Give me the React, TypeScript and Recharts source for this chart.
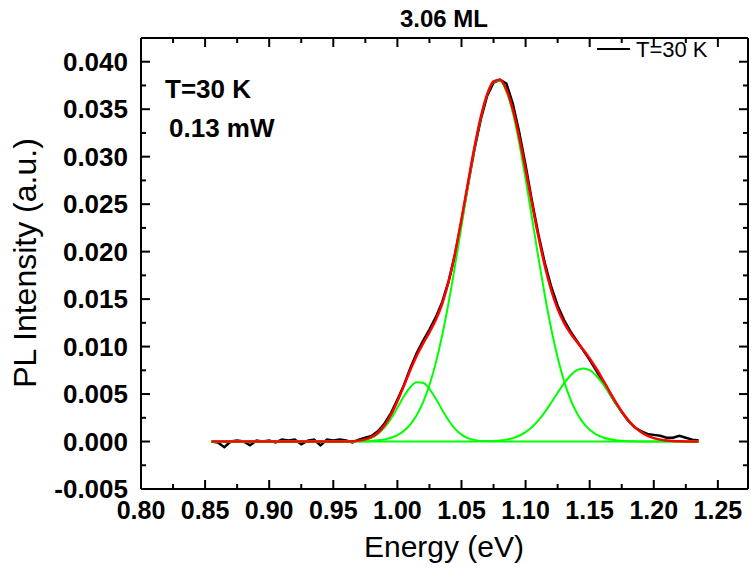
import { Line, LineChart, XAxis, YAxis } from 'recharts';

const energy = [
  0.855, 0.86, 0.865, 0.87, 0.875, 0.88, 0.885, 0.89, 0.895, 0.9,
  0.905, 0.91, 0.915, 0.92, 0.925, 0.93, 0.935, 0.94, 0.945, 0.95,
  0.955, 0.96, 0.965, 0.97, 0.975, 0.98, 0.985, 0.99, 0.995, 1.0,
  1.005, 1.01, 1.015, 1.02, 1.025, 1.03, 1.035, 1.04, 1.045, 1.05,
  1.055, 1.06, 1.065, 1.07, 1.075, 1.08, 1.085, 1.09, 1.095, 1.1,
  1.105, 1.11, 1.115, 1.12, 1.125, 1.13, 1.135, 1.14, 1.145, 1.15,
  1.155, 1.16, 1.165, 1.17, 1.175, 1.18, 1.185, 1.19, 1.195, 1.2,
  1.205, 1.21, 1.215, 1.22, 1.225, 1.23, 1.235,
];

// measured PL spectrum
const measured = [
  0.0, -0.0001, -0.0006, 0.0, 0.0001, 0.0, -0.0004, 0.0001, 0.0, 0.0001,
  -0.0001, 0.0002, 0.0001, 0.0002, -0.0003, 0.0001, 0.0002, -0.0004, 0.0002, 0.0001,
  0.0002, 0.0001, -0.0001, 0.0002, 0.0004, 0.0006, 0.0011, 0.0019, 0.003, 0.0044,
  0.0059, 0.0077, 0.0093, 0.0106, 0.0118, 0.0131, 0.0147, 0.0169, 0.0197, 0.0232,
  0.027, 0.0307, 0.0339, 0.0364, 0.0378, 0.0381, 0.0377, 0.0356, 0.0326, 0.0291,
  0.0253, 0.0218, 0.0188, 0.0163, 0.0143, 0.0128, 0.0116, 0.0106, 0.0096, 0.0086,
  0.0075, 0.0064, 0.0052, 0.0041, 0.0031, 0.0022, 0.0015, 0.0011, 0.0008, 0.0007,
  0.0006, 0.0004, 0.0004, 0.0006, 0.0004, 0.0002, 0.0001,
];

// cumulative fit (red)
const fitSum = [
  0, 0, 0, 0, 0, 0, 0, 0, 0, 0,
  0, 0, 0, 0, 0, 0, 0, 0, 0, 0,
  0.000005, 0.000014, 0.000038, 0.000096, 0.000226, 0.000485, 0.000954, 0.001715, 0.002817, 0.004236,
  0.005861, 0.007508, 0.009012, 0.010308, 0.0115, 0.012818, 0.014537, 0.01688, 0.019884, 0.023419,
  0.027211, 0.030912, 0.034148, 0.03657, 0.037931, 0.038106, 0.03708, 0.034998, 0.03208, 0.028648,
  0.02505, 0.021583, 0.018501, 0.015955, 0.013972, 0.012499, 0.011408, 0.010508, 0.00966, 0.008748,
  0.007718, 0.006579, 0.005392, 0.004225, 0.003171, 0.002263, 0.00154, 0.000998, 0.00061, 0.000358,
  0.0002, 0.000106, 0.000053, 0.000026, 0.000012, 0.000005, 0.000002,
];

// fitted peaks (green)
const peakLow = [
  0, 0, 0, 0, 0, 0, 0, 0, 0, 0,
  0, 0, 0, 0, 0, 0, 0, 0, 0, 0,
  0.000003, 0.00001, 0.00003, 0.000079, 0.000192, 0.000419, 0.000829, 0.001487, 0.002416, 0.003554,
  0.004737, 0.005717, 0.00625, 0.006188, 0.00555, 0.004508, 0.003317, 0.00221, 0.001334, 0.000729,
  0.000361, 0.000162, 0.000066, 0.000024, 0.000008, 0, 0, 0, 0, 0,
  0, 0, 0, 0, 0, 0, 0, 0, 0, 0,
  0, 0, 0, 0, 0, 0, 0, 0, 0, 0,
  0, 0, 0, 0, 0, 0, 0,
];

const peakMain = [
  0, 0, 0, 0, 0, 0, 0, 0, 0, 0,
  0, 0, 0, 0, 0, 0, 0, 0, 0, 0,
  0, 0.000004, 0.000008, 0.000017, 0.000034, 0.000066, 0.000125, 0.000228, 0.000401, 0.000682,
  0.001124, 0.001791, 0.002762, 0.00412, 0.00595, 0.00831, 0.01122, 0.01467, 0.01855, 0.02269,
  0.02685, 0.03075, 0.03407, 0.03652, 0.03787, 0.038, 0.03688, 0.03464, 0.03147, 0.02766,
  0.02353, 0.01936, 0.01541, 0.01187, 0.00884, 0.00637, 0.00445, 0.003, 0.00196, 0.00124,
  0.00076, 0.00045, 0.00026, 0.00014, 0.00008, 0.00004, 0.00002, 0.00001, 0, 0,
  0, 0, 0, 0, 0, 0, 0,
];

const peakHigh = [
  0, 0, 0, 0, 0, 0, 0, 0, 0, 0,
  0, 0, 0, 0, 0, 0, 0, 0, 0, 0,
  0, 0, 0, 0, 0, 0, 0, 0, 0, 0,
  0, 0, 0, 0, 0, 0, 0, 0, 0, 0,
  0, 0, 0.000012, 0.000026, 0.000053, 0.000106, 0.0002, 0.000358, 0.00061, 0.000988,
  0.00152, 0.002223, 0.003091, 0.004085, 0.005132, 0.006129, 0.006958, 0.007508, 0.0077, 0.007508,
  0.006958, 0.006129, 0.005132, 0.004085, 0.003091, 0.002223, 0.00152, 0.000988, 0.00061, 0.000358,
  0.0002, 0.000106, 0.000053, 0.000026, 0.000012, 0.000005, 0.000002,
];

const xTicks = [
  0.8, 0.825, 0.85, 0.875, 0.9, 0.925, 0.95, 0.975, 1.0, 1.025,
  1.05, 1.075, 1.1, 1.125, 1.15, 1.175, 1.2, 1.225, 1.25,
];
const yTicks = [
  -0.005, -0.0025, 0, 0.0025, 0.005, 0.0075, 0.01, 0.0125, 0.015, 0.0175,
  0.02, 0.0225, 0.025, 0.0275, 0.03, 0.0325, 0.035, 0.0375, 0.04,
];

const rows = energy.map((e, i) => ({
  energy: e,
  measured: measured[i],
  fit: fitSum[i],
  p1: peakLow[i],
  p2: peakMain[i],
  p3: peakHigh[i],
}));

const FONT = '"Liberation Sans", Arial, Helvetica, sans-serif';
const MAJOR = 9;
const MINOR = 5;

const onStep = (v: number, step: number) => Math.abs(v / step - Math.round(v / step)) < 1e-6;

const BottomTick = (props: any) => {
  const { x, y, payload } = props;
  const major = onStep(payload.value, 0.05);
  return (
    <g>
      <line x1={x} y1={y} x2={x} y2={y - (major ? MAJOR : MINOR)} stroke='#000' strokeWidth={2} />
      {major && (
        <text x={x} y={y + 30} textAnchor='middle' fontFamily={FONT} fontWeight='bold' fontSize={25} fill='#000'>
          {payload.value.toFixed(2)}
        </text>
      )}
    </g>
  );
};

const TopTick = (props: any) => {
  const { x, y, payload } = props;
  const major = onStep(payload.value, 0.05);
  return <line x1={x} y1={y} x2={x} y2={y + (major ? MAJOR : MINOR)} stroke='#000' strokeWidth={2} />;
};

const LeftTick = (props: any) => {
  const { x, y, payload } = props;
  const major = onStep(payload.value, 0.005);
  return (
    <g>
      <line x1={x} y1={y} x2={x + (major ? MAJOR : MINOR)} y2={y} stroke='#000' strokeWidth={2} />
      {major && (
        <text x={x - 13} y={y + 9} textAnchor='end' fontFamily={FONT} fontWeight='bold' fontSize={26} fill='#000'>
          {payload.value.toFixed(3)}
        </text>
      )}
    </g>
  );
};

const RightTick = (props: any) => {
  const { x, y, payload } = props;
  const major = onStep(payload.value, 0.005);
  return <line x1={x} y1={y} x2={x - (major ? MAJOR : MINOR)} y2={y} stroke='#000' strokeWidth={2} />;
};

const frame = { stroke: '#000', strokeWidth: 2 };

export default function App() {
  return (
    <div style={{ position: 'absolute', left: 0, top: 0, width: 751, height: 571, background: '#fff' }}>
      <LineChart width={751} height={571} data={rows} margin={{ top: 37, right: 2, left: 0, bottom: 0 }}>
        <XAxis
          dataKey='energy'
          type='number'
          domain={[0.8, 1.2735]}
          ticks={xTicks}
          interval={0}
          allowDataOverflow
          height={82}
          tickSize={0}
          tickMargin={0}
          tickLine={false}
          axisLine={frame}
          tick={<BottomTick />}
        />
        <XAxis
          xAxisId='top'
          orientation='top'
          dataKey='energy'
          type='number'
          domain={[0.8, 1.2735]}
          ticks={xTicks}
          interval={0}
          allowDataOverflow
          height={1}
          tickSize={0}
          tickMargin={0}
          tickLine={false}
          axisLine={frame}
          tick={<TopTick />}
        />
        <YAxis
          type='number'
          domain={[-0.005, 0.0425]}
          ticks={yTicks}
          interval={0}
          allowDataOverflow
          width={141}
          tickSize={0}
          tickMargin={0}
          tickLine={false}
          axisLine={frame}
          tick={<LeftTick />}
        />
        <YAxis
          yAxisId='right'
          orientation='right'
          type='number'
          domain={[-0.005, 0.0425]}
          ticks={yTicks}
          interval={0}
          allowDataOverflow
          width={1}
          tickSize={0}
          tickMargin={0}
          tickLine={false}
          axisLine={frame}
          tick={<RightTick />}
        />
        <Line type='linear' dataKey='measured' stroke='#000' strokeWidth={2.5} dot={false} isAnimationActive={false} />
        <Line type='monotone' dataKey='p1' stroke='#00ff00' strokeWidth={2} dot={false} isAnimationActive={false} />
        <Line type='monotone' dataKey='p2' stroke='#00ff00' strokeWidth={2} dot={false} isAnimationActive={false} />
        <Line type='monotone' dataKey='p3' stroke='#00ff00' strokeWidth={2} dot={false} isAnimationActive={false} />
        <Line type='monotone' dataKey='fit' stroke='#ff0000' strokeWidth={2.5} dot={false} isAnimationActive={false} />
      </LineChart>
      <svg
        width={751}
        height={571}
        style={{ position: 'absolute', left: 0, top: 0, pointerEvents: 'none' }}
        fontFamily={FONT}
      >
        <text x={444} y={27} textAnchor='middle' fontWeight='bold' fontSize={24}>
          3.06 ML
        </text>
        <text x={165} y={98} fontWeight='bold' fontSize={26}>
          T=30 K
        </text>
        <text x={169} y={137} fontWeight='bold' fontSize={26}>
          0.13 mW
        </text>
        <line x1={597} y1={49} x2={630} y2={49} stroke='#000' strokeWidth={2} />
        <text x={636} y={57} fontSize={22}>
          T=30 K
        </text>
        <text x={444} y={557} textAnchor='middle' fontSize={30}>
          Energy (eV)
        </text>
        <text transform='translate(36,263) rotate(-90)' textAnchor='middle' fontSize={32}>
          PL Intensity (a.u.)
        </text>
      </svg>
    </div>
  );
}
